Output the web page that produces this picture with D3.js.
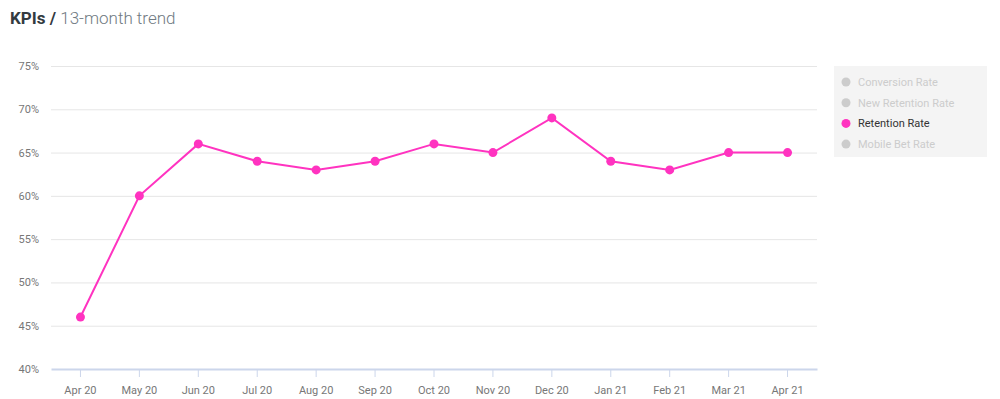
<!DOCTYPE html>
<html>
<head>
<meta charset="utf-8">
<script src="https://cdn.jsdelivr.net/npm/d3@7"></script>
<style>
  body { margin: 0; background: #fff; font-family: Roboto, "Open Sans", sans-serif; }
  svg text { font-family: Roboto, "Open Sans", sans-serif; }
</style>
</head>
<body>
<div id="chart"></div>
<script>
// data
var months = ["Apr 20", "May 20", "Jun 20", "Jul 20", "Aug 20", "Sep 20", "Oct 20",
              "Nov 20", "Dec 20", "Jan 21", "Feb 21", "Mar 21", "Apr 21"];
var retentionRate = [46, 60, 66, 64, 63, 64, 66, 65, 69, 64, 63, 65, 65];
var yTicks = [40, 45, 50, 55, 60, 65, 70, 75];
var legendItems = ["Conversion Rate", "New Retention Rate", "Retention Rate", "Mobile Bet Rate"];
var activeSeries = "Retention Rate";

var W = 1000, H = 399;
var margin = {top: 66, right: 183, bottom: 30, left: 51},
    width = W - margin.left - margin.right,
    height = H - margin.top - margin.bottom;

var lineColor = "#ff33c0";

var svg = d3.select("#chart")
    .append("svg")
    .attr("width", W)
    .attr("height", H);

// title
var title = svg.append("text")
    .attr("x", 10)
    .attr("y", 24)
    .style("font-size", "17px");
title.append("tspan").text("KPIs / ").style("font-weight", "bold").style("fill", "#333a40");
title.append("tspan").text("13-month trend").style("fill", "#707a82").style("font-weight", "300");

var g = svg.append("g")
    .attr("transform", "translate(" + margin.left + "," + margin.top + ")");

var x = d3.scaleBand()
    .domain(months)
    .range([0, width])
    .padding(0);

var y = d3.scaleLinear()
    .domain([40, 75])
    .range([height, 0]);

// gridlines
g.selectAll(".grid")
    .data(yTicks.filter(function(d){ return d > 40; }))
    .enter()
    .append("line")
    .attr("x1", 0)
    .attr("x2", width)
    .attr("y1", function(d){ return y(d) + 0.5; })
    .attr("y2", function(d){ return y(d) + 0.5; })
    .attr("stroke", "#e6e6e6")
    .attr("stroke-width", 1);

// y labels
g.selectAll(".ylab")
    .data(yTicks)
    .enter()
    .append("text")
    .attr("x", -12)
    .attr("y", function(d){ return y(d) + 4; })
    .attr("text-anchor", "end")
    .style("font-size", "11px")
    .style("fill", "#777")
    .text(function(d){ return d + "%"; });

// x axis
var xAxis = g.append("g")
    .attr("transform", "translate(0," + height + ")")
    .call(d3.axisBottom(x).tickSizeInner(8).tickSizeOuter(0).tickPadding(4));
xAxis.select(".domain").attr("stroke", "#ccd6eb").attr("stroke-width", 2);
xAxis.selectAll(".tick line").attr("stroke", "#ccd6eb");
xAxis.selectAll(".tick text")
    .attr("y", 17)
    .style("font-size", "11px")
    .style("fill", "#777");

// line
var line = d3.line()
    .x(function(d, i){ return x(months[i]) + x.bandwidth() / 2; })
    .y(function(d){ return y(d); });

g.append("path")
    .datum(retentionRate)
    .attr("d", line)
    .attr("fill", "none")
    .attr("stroke", lineColor)
    .attr("stroke-width", 2);

g.selectAll(".dot")
    .data(retentionRate)
    .enter()
    .append("circle")
    .attr("cx", function(d, i){ return x(months[i]) + x.bandwidth() / 2; })
    .attr("cy", function(d){ return y(d); })
    .attr("r", 4.5)
    .attr("fill", lineColor);

// legend
var legend = svg.append("g")
    .attr("transform", "translate(834,66)");
legend.append("rect")
    .attr("width", 153)
    .attr("height", 91)
    .attr("fill", "#f4f4f4");
var items = legend.selectAll(".item")
    .data(legendItems)
    .enter()
    .append("g")
    .attr("transform", function(d, i){ return "translate(0," + (16 + i * 20.7) + ")"; });
items.append("circle")
    .attr("cx", 12)
    .attr("cy", 0)
    .attr("r", 4.5)
    .attr("fill", function(d){ return d === activeSeries ? lineColor : "#cccccc"; });
items.append("text")
    .attr("x", 24)
    .attr("y", 4)
    .style("font-size", "11px")
    .style("fill", function(d){ return d === activeSeries ? "#333" : "#cccccc"; })
    .text(function(d){ return d; });
</script>
</body>
</html>
